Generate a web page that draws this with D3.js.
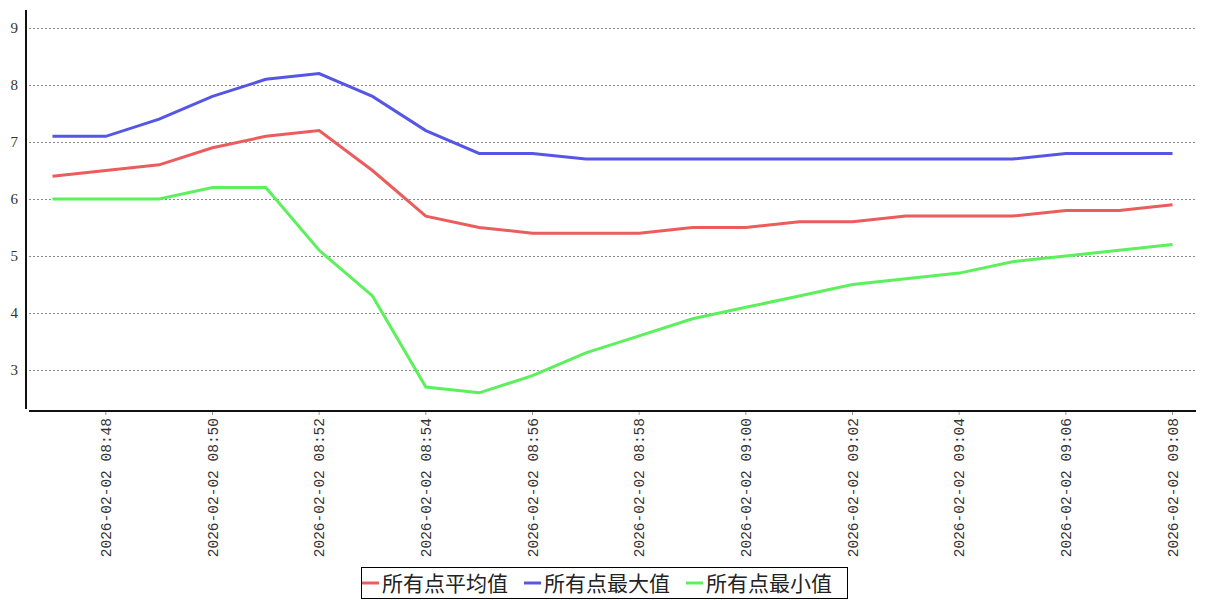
<!DOCTYPE html>
<meta charset="utf-8">
<script src="https://d3js.org/d3.v7.min.js"></script>
<style>
  body { margin: 0; background: #fff; }
  .grid line { stroke: #888; stroke-dasharray: 2,2; }
  .ylab { font-family: "Liberation Serif", serif; font-size: 15px; fill: #333; }
  .xlab { font-family: "Liberation Mono", monospace; font-size: 14.5px; fill: #333; }
  .legend text { font-family: "Noto Sans CJK SC", sans-serif; font-size: 21px; fill: #222; }
</style>
<body>
<div id="chart"></div>
<script>
  // minutes 08:47 .. 09:08
  var times = ["2026-02-02 08:47","2026-02-02 08:48","2026-02-02 08:49","2026-02-02 08:50",
    "2026-02-02 08:51","2026-02-02 08:52","2026-02-02 08:53","2026-02-02 08:54",
    "2026-02-02 08:55","2026-02-02 08:56","2026-02-02 08:57","2026-02-02 08:58",
    "2026-02-02 08:59","2026-02-02 09:00","2026-02-02 09:01","2026-02-02 09:02",
    "2026-02-02 09:03","2026-02-02 09:04","2026-02-02 09:05","2026-02-02 09:06",
    "2026-02-02 09:07","2026-02-02 09:08"];
  var avgVals = [6.4,6.5,6.6,6.9,7.1,7.2,6.5,5.7,5.5,5.4,5.4,5.4,5.5,5.5,5.6,5.6,5.7,5.7,5.7,5.8,5.8,5.9];
  var maxVals = [7.1,7.1,7.4,7.8,8.1,8.2,7.8,7.2,6.8,6.8,6.7,6.7,6.7,6.7,6.7,6.7,6.7,6.7,6.7,6.8,6.8,6.8];
  var minVals = [6.0,6.0,6.0,6.2,6.2,5.1,4.3,2.7,2.6,2.9,3.3,3.6,3.9,4.1,4.3,4.5,4.6,4.7,4.9,5.0,5.1,5.2];
  var seriesNames = ["所有点平均值","所有点最大值","所有点最小值"];
  var seriesColors = ["#ec5c5c","#5656e6","#5cf05c"];
  var yTicks = [3,4,5,6,7,8,9];

  var width = 1207, height = 600;
  var svg = d3.select("#chart").append("svg")
      .attr("width", width).attr("height", height);

  var x = d3.scalePoint().domain(times).range([29, 1196]).padding(0.44);
  var y = d3.scaleLinear().domain([2.316, 9.316]).range([409, 10]);

  // grid
  svg.append("g").attr("class", "grid")
    .selectAll("line").data(yTicks).enter().append("line")
      .attr("x1", 29).attr("x2", 1196)
      .attr("y1", function(d) { return Math.round(y(d)) + 0.5; })
      .attr("y2", function(d) { return Math.round(y(d)) + 0.5; });

  // y labels
  svg.append("g").selectAll("text").data(yTicks).enter().append("text")
      .attr("class", "ylab")
      .attr("x", 18).attr("y", function(d) { return y(d); })
      .attr("dy", "0.35em").attr("text-anchor", "end")
      .text(function(d) { return d; });

  // axes lines
  svg.append("line").attr("x1", 26).attr("x2", 26).attr("y1", 10).attr("y2", 409)
      .attr("stroke", "#111").attr("stroke-width", 2);
  svg.append("line").attr("x1", 29).attr("x2", 1196).attr("y1", 411).attr("y2", 411)
      .attr("stroke", "#111").attr("stroke-width", 2);

  // x ticks + labels (every second minute)
  var shown = times.filter(function(d, i) { return i % 2 == 1; });
  var xt = svg.append("g").selectAll("g").data(shown).enter().append("g")
      .attr("transform", function(d) { return "translate(" + x(d) + ",412)"; });
  xt.append("line").attr("y1", 0).attr("y2", 3).attr("stroke", "#999");
  xt.append("text").attr("class", "xlab")
      .attr("transform", "rotate(-90)")
      .attr("x", -6).attr("dy", "0.35em")
      .attr("text-anchor", "end")
      .text(function(d) { return d; });

  // lines
  var allSeries = [avgVals, maxVals, minVals];
  var line = d3.line()
      .x(function(d, i) { return x(times[i]); })
      .y(function(d) { return y(d); });
  svg.append("g").selectAll("path").data(allSeries).enter().append("path")
      .attr("d", line)
      .attr("fill", "none")
      .attr("stroke", function(d, i) { return seriesColors[i]; })
      .attr("stroke-width", 3);

  // legend
  var lg = svg.append("g").attr("class", "legend");
  lg.append("rect").attr("x", 361.5).attr("y", 567.5).attr("width", 486).attr("height", 31)
      .attr("fill", "#fff").attr("stroke", "#000");
  var legX = [362, 524, 686];
  seriesNames.forEach(function(name, i) {
    lg.append("line").attr("x1", legX[i]).attr("x2", legX[i] + 17)
      .attr("y1", 583).attr("y2", 583)
      .attr("stroke", seriesColors[i]).attr("stroke-width", 3);
    lg.append("text").attr("x", legX[i] + 20).attr("y", 583).attr("dy", "0.36em")
      .text(name);
  });
</script>
</body>
